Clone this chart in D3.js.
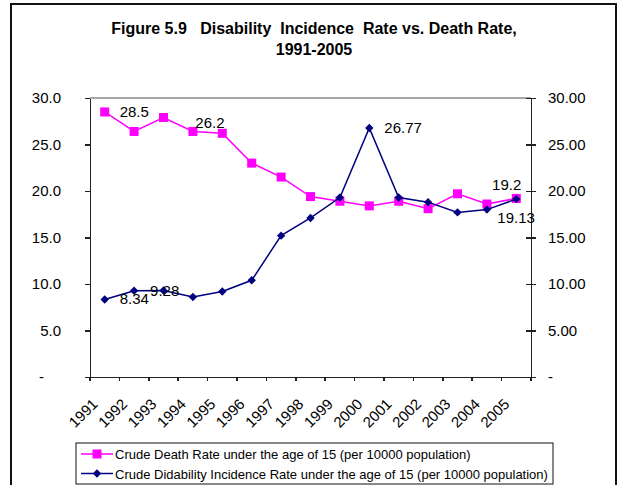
<!DOCTYPE html>
<html>

<head>
  <meta charset="utf-8">
  <script src="https://d3js.org/d3.v7.min.js"></script>

  <style>
    body {
      margin: 0;
      background: #fff;
    }

    text {
      font-family: "Liberation Sans", Arial, sans-serif;
      fill: #000;
    }

    .title {
      font-size: 16px;
      font-weight: bold;
      white-space: pre;
    }

    .axis path,
    .axis line {
      stroke: #222;
      stroke-width: 1.5;
      shape-rendering: crispEdges;
    }

    .axis text {
      font-size: 15px;
    }
  </style>
</head>

<body>
  <script type="text/javascript">
    // chart data
    var years = ['1991', '1992', '1993', '1994', '1995', '1996', '1997', '1998',
      '1999', '2000', '2001', '2002', '2003', '2004', '2005'];
    var deathRate = [28.5, 26.4, 27.9, 26.4, 26.2, 23.0, 21.5, 19.4,
      18.9, 18.4, 18.9, 18.1, 19.7, 18.6, 19.2];
    var disabilityRate = [8.34, 9.28, 9.3, 8.6, 9.2, 10.4, 15.2, 17.1,
      19.3, 26.77, 19.3, 18.8, 17.7, 18.0, 19.13];
    var yTicks = [0, 5, 10, 15, 20, 25, 30];
    var titleLines = ['Figure 5.9   Disability  Incidence  Rate vs. Death Rate,', '1991-2005'];
    var seriesNames = ['Crude Death Rate under the age of 15 (per 10000 population)',
      'Crude Didability Incidence Rate under the age of 15 (per 10000 population)'];
    // which points carry a value label (index into the series)
    var deathLabelled = [0, 4, 14];
    var disabilityLabelled = [0, 1, 9, 14];

    var width = 621,
      height = 485;
    var plot = { left: 90, right: 531, top: 98, bottom: 377 };

    var pink = '#FF00FF';
    var navy = '#000080';

    var svg = d3.select('body')
      .append('svg')
      .attr('width', width)
      .attr('height', height);

    // outer chart frame (bottom edge falls outside the picture)
    svg.append('rect')
      .attr('x', 11)
      .attr('y', 4)
      .attr('width', 605)
      .attr('height', 500)
      .attr('fill', 'none')
      .attr('stroke', '#111')
      .attr('stroke-width', 2);

    // title
    svg.selectAll('.title')
      .data(titleLines)
      .enter().append('text')
      .attr('class', 'title')
      .attr('x', 314)
      .attr('y', function(d, i) {
        return 34 + i * 21;
      })
      .attr('text-anchor', 'middle')
      .text(function(d) {
        return d;
      });

    // scales
    var x = d3.scaleBand()
      .domain(years)
      .range([plot.left, plot.right]);

    var y = d3.scaleLinear()
      .domain([0, 30])
      .range([plot.bottom, plot.top]);

    function cx(i) {
      return x(years[i]) + x.bandwidth() / 2;
    }

    // plot area top border
    svg.append('line')
      .attr('x1', plot.left)
      .attr('x2', plot.right)
      .attr('y1', plot.top)
      .attr('y2', plot.top)
      .attr('stroke', '#888')
      .attr('stroke-width', 1.5);

    // left axis
    var leftAxis = d3.axisLeft(y)
      .tickValues(yTicks)
      .tickSize(5)
      .tickPadding(24)
      .tickSizeOuter(0)
      .tickFormat(function(d) {
        return d === 0 ? '-' : d3.format('.1f')(d);
      });

    var gl = svg.append('g')
      .attr('class', 'axis')
      .attr('transform', 'translate(' + plot.left + ',0)')
      .call(leftAxis);
    gl.selectAll('.tick text')
      .filter(function(d) { return d === 0; })
      .attr('text-anchor', 'start')
      .attr('x', -51);

    // right axis (ticks cross the line)
    var rightAxis = d3.axisRight(y)
      .tickValues(yTicks)
      .tickSize(5)
      .tickPadding(12)
      .tickSizeOuter(0)
      .tickFormat(function(d) {
        return d === 0 ? '-' : d3.format('.2f')(d);
      });

    var gr = svg.append('g')
      .attr('class', 'axis')
      .attr('transform', 'translate(' + plot.right + ',0)')
      .call(rightAxis);
    gr.selectAll('.tick line').attr('x1', -5);
    gr.selectAll('.tick text').attr('text-anchor', 'start');

    // bottom axis: labels at category centres, ticks at category edges
    var bottomAxis = d3.axisBottom(x)
      .tickSize(0)
      .tickSizeOuter(0)
      .tickPadding(0);

    var gb = svg.append('g')
      .attr('class', 'axis')
      .attr('transform', 'translate(0,' + plot.bottom + ')')
      .call(bottomAxis);
    gb.selectAll('.tick text')
      .attr('text-anchor', 'end')
      .attr('dy', 0)
      .attr('transform', 'translate(-6,28) rotate(-45)');

    gb.selectAll('.edge')
      .data(years.concat(['end']))
      .enter().append('line')
      .attr('class', 'edge')
      .attr('x1', function(d) {
        return d === 'end' ? plot.right : x(d);
      })
      .attr('x2', function(d) {
        return d === 'end' ? plot.right : x(d);
      })
      .attr('y1', 0)
      .attr('y2', 4);

    // lines
    var line = d3.line()
      .x(function(d, i) { return cx(i); })
      .y(function(d) { return y(d); });

    svg.append('path')
      .datum(deathRate)
      .attr('d', line)
      .attr('fill', 'none')
      .attr('stroke', pink)
      .attr('stroke-width', 1.5);

    svg.selectAll('.death')
      .data(deathRate)
      .enter().append('rect')
      .attr('class', 'death')
      .attr('x', function(d, i) { return cx(i) - 4.5; })
      .attr('y', function(d) { return y(d) - 4.5; })
      .attr('width', 9)
      .attr('height', 9)
      .attr('fill', pink);

    svg.append('path')
      .datum(disabilityRate)
      .attr('d', line)
      .attr('fill', 'none')
      .attr('stroke', navy)
      .attr('stroke-width', 1.5);

    var diamond = d3.symbol().type(d3.symbolDiamond2).size(45);

    svg.selectAll('.disab')
      .data(disabilityRate)
      .enter().append('path')
      .attr('class', 'disab')
      .attr('d', diamond)
      .attr('transform', function(d, i) {
        return 'translate(' + cx(i) + ',' + y(d) + ')';
      })
      .attr('fill', navy);

    // value labels
    var labelOffsets = {
      death: { 0: [15, 5, 'start'], 4: [-27, -5, 'start'], 14: [5, -8, 'end'] },
      disab: { 0: [15, 5, 'start'], 1: [16, 5, 'start'], 9: [15, 5, 'start'], 14: [-19, 24, 'start'] }
    };

    function addLabels(values, idx, key) {
      svg.selectAll('.lbl-' + key)
        .data(idx)
        .enter().append('text')
        .attr('class', 'lbl-' + key)
        .attr('x', function(i) { return cx(i) + labelOffsets[key][i][0]; })
        .attr('y', function(i) { return y(values[i]) + labelOffsets[key][i][1]; })
        .attr('text-anchor', function(i) { return labelOffsets[key][i][2]; })
        .style('font-size', '15px')
        .text(function(i) { return values[i]; });
    }
    addLabels(deathRate, deathLabelled, 'death');
    addLabels(disabilityRate, disabilityLabelled, 'disab');

    // legend
    var legend = svg.append('g')
      .attr('transform', 'translate(76,443)');

    legend.append('rect')
      .attr('width', 477)
      .attr('height', 41)
      .attr('fill', '#fff')
      .attr('stroke', '#111')
      .attr('stroke-width', 1);

    var item = legend.selectAll('.item')
      .data(seriesNames)
      .enter().append('g')
      .attr('class', 'item')
      .attr('transform', function(d, i) {
        return 'translate(0,' + (11 + i * 19.5) + ')';
      });

    item.append('line')
      .attr('x1', 5)
      .attr('x2', 37)
      .attr('stroke', function(d, i) { return i === 0 ? pink : navy; })
      .attr('stroke-width', 1.5);

    item.append('path')
      .attr('d', function(d, i) {
        return i === 0 ? d3.symbol().type(d3.symbolSquare).size(81)() : diamond();
      })
      .attr('transform', 'translate(21,0)')
      .attr('fill', function(d, i) { return i === 0 ? pink : navy; });

    item.append('text')
      .attr('x', 39)
      .attr('y', 5)
      .style('font-size', '13px')
      .text(function(d) { return d; });
  </script>
</body>

</html>
